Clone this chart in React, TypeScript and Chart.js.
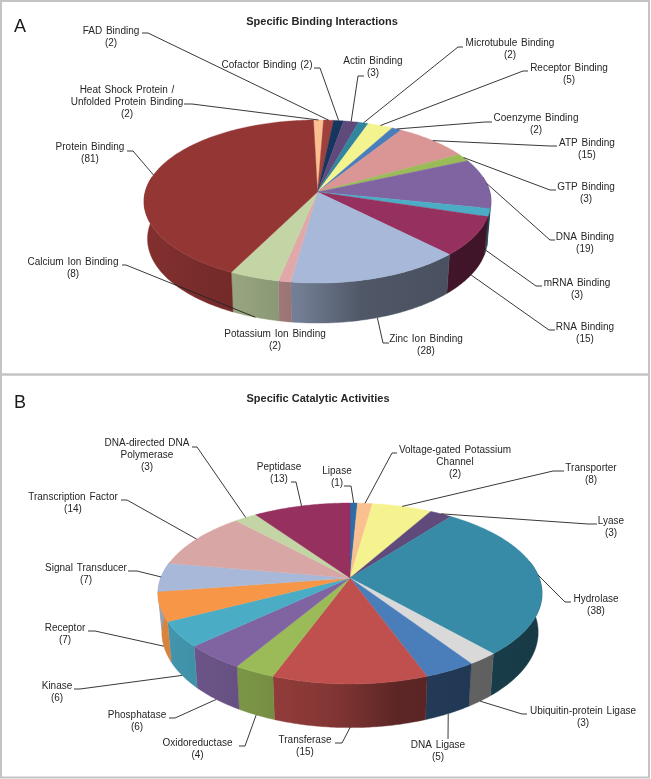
import React, { useEffect, useRef } from "react";
import { Chart, registerables } from "chart.js";

Chart.register(...registerables);

// ---- Panel A data
const bindingNames = ["Heat Shock Protein /\nUnfolded Protein Binding", "FAD Binding", "Cofactor Binding", "Actin Binding", "Microtubule Binding", "Receptor Binding", "Coenzyme Binding", "ATP Binding", "GTP Binding", "DNA Binding", "mRNA Binding", "RNA Binding", "Zinc Ion Binding", "Potassium Ion Binding", "Calcium Ion Binding", "Protein Binding"];
const bindingValues = [2, 2, 2, 3, 2, 5, 2, 15, 3, 19, 3, 15, 28, 2, 8, 81];
const bindingColors = ["#FAC090", "#A0403C", "#17365D", "#604A7B", "#31859C", "#F3F38F", "#4A7EBB", "#D99694", "#9BBB59", "#8064A2", "#4BACC6", "#96305F", "#A7B8D8", "#E0A8A8", "#C3D5A4", "#943634"];

// ---- Panel B data
const catalyticNames = ["Lipase", "Voltage-gated Potassium\nChannel", "Transporter", "Lyase", "Hydrolase", "Ubiquitin-protein Ligase", "DNA Ligase", "Transferase", "Oxidoreductase", "Phosphatase", "Kinase", "Receptor", "Signal Transducer", "Transcription Factor", "DNA-directed DNA\nPolymerase", "Peptidase"];
const catalyticValues = [1, 2, 8, 3, 38, 3, 5, 15, 4, 6, 6, 7, 7, 14, 3, 13];
const catalyticColors = ["#2F6CA5", "#FAC090", "#F5F38F", "#604A7B", "#378BA6", "#D9D9D9", "#4A7EBB", "#C0504D", "#9BBB59", "#8064A2", "#4BACC6", "#F79646", "#A7B8D8", "#D9A6A6", "#C3D5A4", "#96305F"];

// ---- Layout only: label centre x, first-line y, start of leader, elbow of leader
type Callout = { x: number; y: number; from?: number[]; elbow?: number[]; inline?: boolean };
const bindingCallouts: Callout[] = [
  { x: 127, y: 90, from: [184, 104], elbow: [192, 104] },
  { x: 111, y: 31, from: [142, 33], elbow: [148, 33] },
  { x: 267, y: 65, from: [314, 68], elbow: [320, 68], inline: true },
  { x: 373, y: 61, from: [364, 76], elbow: [358, 76] },
  { x: 510, y: 43, from: [463, 47], elbow: [458, 47] },
  { x: 569, y: 68, from: [528, 71], elbow: [523, 71] },
  { x: 536, y: 118, from: [492, 122], elbow: [485, 122] },
  { x: 587, y: 143, from: [557, 146], elbow: [550, 146] },
  { x: 586, y: 187, from: [556, 190], elbow: [550, 190] },
  { x: 585, y: 237, from: [555, 240], elbow: [550, 240] },
  { x: 577, y: 283, from: [542, 286], elbow: [536, 286] },
  { x: 585, y: 327, from: [555, 330], elbow: [549, 330] },
  { x: 426, y: 339, from: [389, 343], elbow: [383, 343] },
  { x: 275, y: 334 },
  { x: 73, y: 262, from: [122, 265], elbow: [126, 265] },
  { x: 90, y: 147, from: [127, 151], elbow: [133, 151] },
];
const catalyticCallouts: Callout[] = [
  { x: 337, y: 471, from: [344, 486], elbow: [351, 486] },
  { x: 455, y: 450, from: [397, 453], elbow: [392, 453] },
  { x: 591, y: 468, from: [564, 471], elbow: [553, 471] },
  { x: 611, y: 521, from: [597, 524], elbow: [588, 524] },
  { x: 596, y: 599, from: [571, 602], elbow: [565, 602] },
  { x: 583, y: 711, from: [527, 714], elbow: [522, 714] },
  { x: 438, y: 745, from: [448, 739], elbow: [448, 739] },
  { x: 305, y: 740, from: [335, 743], elbow: [342, 743] },
  { x: 197.5, y: 743, from: [239, 746], elbow: [245, 746] },
  { x: 137, y: 715, from: [169, 718], elbow: [175, 718] },
  { x: 57, y: 686, from: [74, 689], elbow: [80, 689] },
  { x: 65, y: 628, from: [88, 631], elbow: [95, 631] },
  { x: 86, y: 568, from: [128, 571], elbow: [137, 571] },
  { x: 73, y: 497, from: [121, 500], elbow: [127, 500] },
  { x: 147, y: 443, from: [192, 447], elbow: [197, 447] },
  { x: 279, y: 467, from: [291, 482], elbow: [296, 482] },
];

// Pie projection: centre, radius, ellipse height, perspective, depth, shrink of the lower face
type View = { cx: number; cy: number; r: number; rk: number; p: number; d: number; f: number };
const bindingView: View = { cx: 317.5, cy: 192, r: 172.3, rk: 80.4, p: 0.1166, d: 37, f: 0.98 };
const catalyticView: View = { cx: 350, cy: 578, r: 189.2, rk: 87.8, p: 0.171, d: 38, f: 0.98 };

const shadeStops = [[-1, 0.88], [-0.5, 0.78], [-0.1, 0.68], [0.25, 0.48], [1, 0.42]];
const TEXT = "#262626";
const FONT = '"Liberation Sans", Arial, sans-serif';

function scaled(hex: string, k: number) {
  const n = parseInt(hex.slice(1), 16);
  const c = [(n >> 16) & 255, (n >> 8) & 255, n & 255].map((v) => Math.round(v * k));
  return `rgb(${c[0]},${c[1]},${c[2]})`;
}

function project(v: View, a: number, lower: boolean) {
  const x = Math.cos(a), y = Math.sin(a);
  const s = 1 / (1 - v.p * y);
  const f = lower ? v.f : 1;
  return [v.cx + v.r * x * s * f, v.cy + v.rk * y * s * f + (lower ? v.d * s : 0)];
}

type PanelCfg = {
  title: string; titleX: number; titleY: number; letter: string; letterY: number;
  box: number[]; top: number; view: View; names: string[]; values: number[];
  callouts: Callout[]; rotation: number;
};

function makePlugin(cfg: PanelCfg) {
  return {
    id: "pie3d",
    beforeDatasetsDraw(chart: any) {
      const ctx: CanvasRenderingContext2D = chart.ctx;
      const arcs = chart.getDatasetMeta(0).data;
      const colors = chart.data.datasets[0].backgroundColor as string[];
      const v = cfg.view;
      const STEP = 0.012;
      ctx.save();
      ctx.translate(0, -cfg.top);

      // panel frame
      ctx.strokeStyle = "#C4C4C4";
      ctx.lineWidth = 2;
      ctx.strokeRect(cfg.box[0], cfg.box[1], cfg.box[2], cfg.box[3]);

      // side wall, shaded left to right
      arcs.forEach((arc: any, i: number) => {
        const grad = ctx.createLinearGradient(v.cx - v.r, 0, v.cx + v.r, 0);
        shadeStops.forEach(([t, k]) => grad.addColorStop((t + 1) / 2, scaled(colors[i], k)));
        const pts: number[][] = [];
        const back: number[][] = [];
        for (let a = arc.startAngle; ; a += STEP) {
          const b = Math.min(a, arc.endAngle);
          if (Math.sin(b) >= -0.2) {
            pts.push(project(v, b, false));
            back.unshift(project(v, b, true));
          }
          if (a >= arc.endAngle) break;
        }
        if (!pts.length) return;
        ctx.fillStyle = grad;
        ctx.strokeStyle = grad;
        ctx.lineWidth = 0.4;
        ctx.beginPath();
        [...pts, ...back].forEach((p, j) => (j ? ctx.lineTo(p[0], p[1]) : ctx.moveTo(p[0], p[1])));
        ctx.closePath();
        ctx.fill();
        ctx.stroke();
      });

      // upper face
      arcs.forEach((arc: any, i: number) => {
        ctx.fillStyle = colors[i];
        ctx.strokeStyle = colors[i];
        ctx.lineWidth = 0.4;
        ctx.beginPath();
        ctx.moveTo(v.cx, v.cy);
        for (let a = arc.startAngle; a < arc.endAngle; a += STEP) {
          const p = project(v, a, false);
          ctx.lineTo(p[0], p[1]);
        }
        const e = project(v, arc.endAngle, false);
        ctx.lineTo(e[0], e[1]);
        ctx.closePath();
        ctx.fill();
        ctx.stroke();
      });

      // leaders
      ctx.strokeStyle = "#222222";
      ctx.lineWidth = 0.9;
      arcs.forEach((arc: any, i: number) => {
        const c = cfg.callouts[i];
        if (!c.from || !c.elbow) return;
        const mid = (arc.startAngle + arc.endAngle) / 2;
        const end = project(v, mid, Math.sin(mid) > 0.1);
        ctx.beginPath();
        ctx.moveTo(c.from[0], c.from[1]);
        ctx.lineTo(c.elbow[0], c.elbow[1]);
        ctx.lineTo(end[0], end[1]);
        ctx.stroke();
      });

      // texts
      ctx.fillStyle = TEXT;
      ctx.textAlign = "center";
      ctx.textBaseline = "middle";
      (ctx as any).wordSpacing = "1px";
      ctx.font = `10px ${FONT}`;
      cfg.names.forEach((name, i) => {
        const c = cfg.callouts[i];
        const count = `(${cfg.values[i]})`;
        const lines = c.inline ? [`${name} ${count}`] : [...name.split("\n"), count];
        lines.forEach((line, j) => ctx.fillText(line, c.x, c.y + j * 12.2));
      });
      (ctx as any).wordSpacing = "0px";
      ctx.font = `bold 11px ${FONT}`;
      ctx.fillText(cfg.title, cfg.titleX, cfg.titleY);
      ctx.textAlign = "left";
      ctx.font = `18px ${FONT}`;
      ctx.fillStyle = "#1a1a1a";
      ctx.fillText(cfg.letter, 14, cfg.letterY);
      ctx.restore();
      return false;
    },
  };
}

function Panel({ cfg, colors, height }: { cfg: PanelCfg; colors: string[]; height: number }) {
  const ref = useRef<HTMLCanvasElement>(null);
  useEffect(() => {
    const chart = new Chart(ref.current as HTMLCanvasElement, {
      type: "pie",
      data: {
        labels: cfg.names.map((n) => n.replace("\n", " ")),
        datasets: [{ data: cfg.values, backgroundColor: colors, borderWidth: 0 }],
      },
      options: {
        responsive: false,
        animation: false,
        events: [],
        rotation: cfg.rotation,
        plugins: { legend: { display: false }, tooltip: { enabled: false }, title: { display: false } },
      },
      plugins: [makePlugin(cfg)],
    } as any);
    return () => chart.destroy();
  }, []);
  return (
    <canvas
      ref={ref}
      width={651}
      height={height}
      style={{ position: "absolute", left: 0, top: cfg.top, width: 651, height, display: "block" }}
    />
  );
}

const panelA: PanelCfg = {
  title: "Specific Binding Interactions", titleX: 322, titleY: 22, letter: "A", letterY: 27,
  box: [1, 1, 648, 373.5], top: 0, view: bindingView, names: bindingNames, values: bindingValues,
  callouts: bindingCallouts, rotation: -1.5,
};
const panelB: PanelCfg = {
  title: "Specific Catalytic Activities", titleX: 318, titleY: 399, letter: "B", letterY: 403,
  box: [1, 374.5, 648, 403], top: 370, view: catalyticView, names: catalyticNames, values: catalyticValues,
  callouts: catalyticCallouts, rotation: 0,
};

export default function App() {
  return (
    <div style={{ position: "absolute", left: 0, top: 0, width: 651, height: 779, background: "#fff" }}>
      <Panel cfg={panelA} colors={bindingColors} height={376} />
      <Panel cfg={panelB} colors={catalyticColors} height={409} />
    </div>
  );
}
